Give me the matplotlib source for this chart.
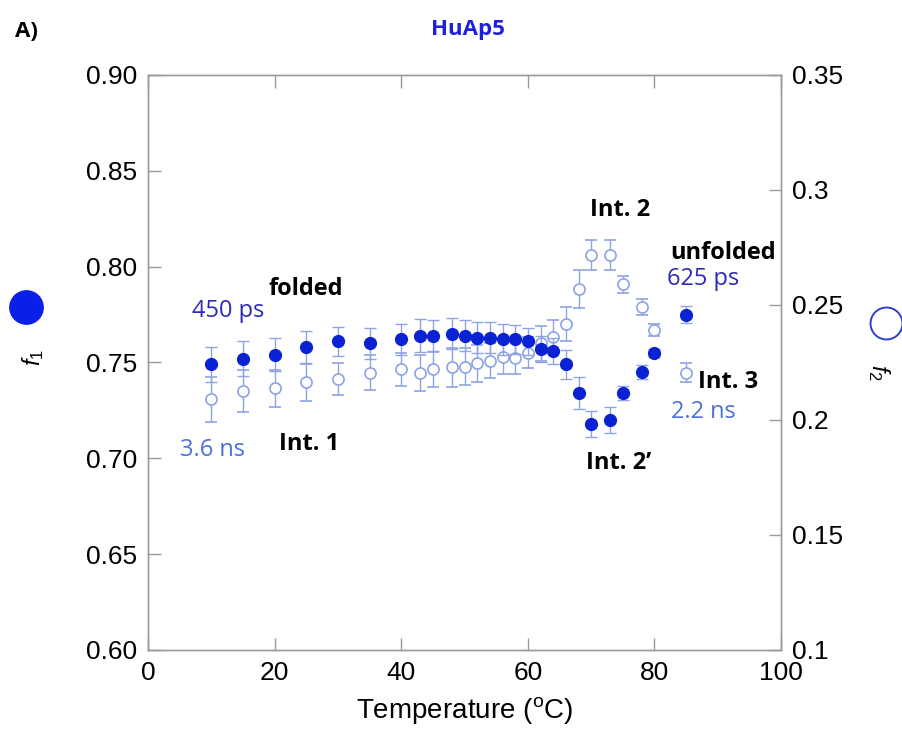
import numpy as np
import matplotlib
matplotlib.use("Agg")
import matplotlib.pyplot as plt

# ---- data ----
temps = [10, 15, 20, 25, 30, 35, 40, 43, 45, 48, 50, 52, 54, 56, 58, 60,
         62, 64, 66, 68, 70, 73, 75, 78, 80, 85]
f1 = [0.749, 0.752, 0.754, 0.758, 0.761, 0.760, 0.762, 0.764, 0.764, 0.765,
      0.764, 0.763, 0.763, 0.762, 0.762, 0.761, 0.757, 0.756, 0.749, 0.734,
      0.718, 0.720, 0.734, 0.745, 0.755, 0.775]
f1_err = [0.009, 0.009, 0.0087, 0.0083, 0.0077, 0.008, 0.008, 0.0087, 0.008,
          0.008, 0.008, 0.008, 0.008, 0.008, 0.0075, 0.0072, 0.007, 0.007,
          0.0075, 0.0082, 0.0068, 0.0066, 0.0038, 0.0037, 0.002, 0.0046]
f2 = [0.209, 0.2126, 0.2138, 0.2164, 0.2178, 0.2206, 0.222, 0.2206, 0.222,
      0.2229, 0.2232, 0.2246, 0.2258, 0.2275, 0.2271, 0.2293, 0.2333, 0.2362,
      0.2417, 0.2568, 0.2717, 0.2717, 0.259, 0.249, 0.239, 0.2206]
f2_err = [0.0097, 0.009, 0.008, 0.008, 0.007, 0.0075, 0.0072, 0.0078, 0.0075,
          0.0086, 0.008, 0.008, 0.0075, 0.0075, 0.0072, 0.0068, 0.0075, 0.0072,
          0.0072, 0.0083, 0.0064, 0.0064, 0.0036, 0.0034, 0.0026, 0.004]

xticks = [0, 20, 40, 60, 80, 100]
left_ticks = [0.60, 0.65, 0.70, 0.75, 0.80, 0.85, 0.90]
left_labels = ["0.60", "0.65", "0.70", "0.75", "0.80", "0.85", "0.90"]
right_ticks = [0.10, 0.15, 0.20, 0.25, 0.30, 0.35]
right_labels = ["0.1", "0.15", "0.2", "0.25", "0.3", "0.35"]

# (text, x, f1-scale y, colour, bold)
notes = [("folded", 25.0, 0.7883, "black", True),
         ("450 ps", 12.6, 0.7769, "#2b2bb8", False),
         ("3.6 ns", 10.2, 0.7044, "#4a70dc", False),
         ("Int. 1", 25.5, 0.7075, "black", True),
         ("Int. 2", 74.6, 0.8296, "black", True),
         ("unfolded", 90.8, 0.8071, "black", True),
         ("625 ps", 87.7, 0.7936, "#2b2bb8", False),
         ("Int. 3", 91.6, 0.7398, "black", True),
         ("2.2 ns", 87.7, 0.7242, "#4a70dc", False),
         ("Int. 2\u2019", 74.3, 0.6976, "black", True)]

FILL = "#0b22d4"
LIGHT = "#8ea4e2"
SPINE = "#9a9a9a"

plt.rcParams["font.family"] = ["Liberation Sans", "DejaVu Sans"]
plt.rcParams["mathtext.fontset"] = "custom"
plt.rcParams["mathtext.rm"] = "Liberation Sans"
plt.rcParams["mathtext.it"] = "Liberation Sans:italic"

fig = plt.figure(figsize=(9.02, 7.42), dpi=100)
ax = fig.add_axes([0.164, 0.124, 0.702, 0.775])
ax2 = ax.twinx()
ax.set_zorder(ax2.get_zorder() + 1)
ax.patch.set_visible(False)

# open circles: f2 on right axis
ax2.errorbar(temps, f2, yerr=f2_err, fmt="o", ms=8, mfc="white", mec=LIGHT,
             mew=1.2, ecolor=LIGHT, elinewidth=1.0, capsize=4.5, capthick=1.0)
# filled circles: f1 on left axis
ax.errorbar(temps, f1, yerr=f1_err, fmt="o", ms=8.5, mfc=FILL, mec=FILL,
            ecolor=LIGHT, elinewidth=1.0, capsize=4.5, capthick=1.0)

ax.set_xlim(0, 100)
ax.set_ylim(0.60, 0.90)
ax2.set_ylim(0.10, 0.35)
ax.set_xticks(xticks)
ax.set_yticks(left_ticks)
ax.set_yticklabels(left_labels)
ax2.set_yticks(right_ticks)
ax2.set_yticklabels(right_labels)

ax.tick_params(direction="in", length=9, width=1, color=SPINE, labelsize=19,
               top=True, right=False, pad=8)
ax2.tick_params(direction="in", length=9, width=1, color=SPINE, labelsize=19,
                pad=8)
for a in (ax, ax2):
    for s in a.spines.values():
        s.set_color(SPINE)
        s.set_linewidth(1.0)

ax.set_xlabel("Temperature ($^{\\rm o}$C)", fontsize=20, labelpad=7)

for txt, x, y, col, bold in notes:
    ax.text(x, y, txt, ha="center", va="center", color=col, fontsize=17,
            family=["Open Sans", "DejaVu Sans"],
            fontweight="bold" if bold else "normal")

# axis symbols: big filled / open circle and f1 / f2 labels
ax.plot([-0.193], [0.597], "o", ms=24, color="#0a1fe8", transform=ax.transAxes,
        clip_on=False)
ax.plot([1.166], [0.569], "o", ms=23, mfc="white", mec="#2f3fd0", mew=1.4,
        transform=ax.transAxes, clip_on=False)
ax.text(-0.182, 0.508, "$f_{1}$", rotation=90, ha="center", va="center",
        fontsize=17, transform=ax.transAxes)
ax.text(1.155, 0.482, "$f_{2}$", rotation=270, ha="center", va="center",
        fontsize=17, transform=ax.transAxes)

fig.text(0.029, 0.957, "A)", fontsize=16, fontweight="bold", ha="center",
         va="center", family=["Open Sans", "DejaVu Sans"])
fig.text(0.519, 0.96, "HuAp5", fontsize=16, fontweight="bold", color="#1f1fe0",
         ha="center", va="center", family=["Open Sans", "DejaVu Sans"])

fig.savefig("out.png", dpi=100)
